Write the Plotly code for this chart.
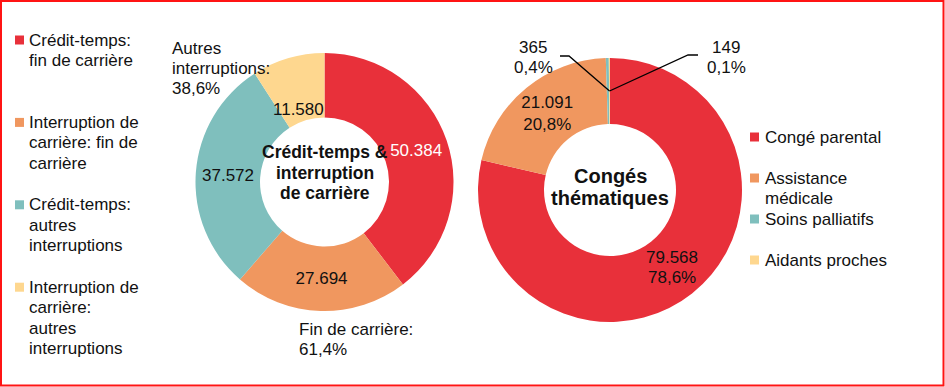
import math
import plotly.graph_objects as go

# ---------------- data ----------------
left_labels = ["Crédit-temps: fin de carrière",
               "Interruption de carrière: fin de carrière",
               "Crédit-temps: autres interruptions",
               "Interruption de carrière: autres interruptions"]
left_legend_lines = [["Crédit-temps:", "fin de carrière"],
                     ["Interruption de", "carrière: fin de", "carrière"],
                     ["Crédit-temps:", "autres", "interruptions"],
                     ["Interruption de", "carrière:", "autres", "interruptions"]]
left_values = [50384, 27694, 37572, 11580]
left_title = ["Crédit-temps &", "interruption", "de carrière"]

right_labels = ["Congé parental", "Assistance médicale", "Soins palliatifs", "Aidants proches"]
right_legend_lines = [["Congé parental"], ["Assistance", "médicale"],
                      ["Soins palliatifs"], ["Aidants proches"]]
right_values = [79568, 21091, 365, 149]
right_title = ["Congés", "thématiques"]

colors = ["#E8303A", "#F0975F", "#7FBFBD", "#FED78F"]

# ---------------- helpers ----------------
W, H = 945, 387
FONT = "Liberation Sans, Arial, sans-serif"
TXT = "#111111"


def px(x):
    return x / W


def py(y):
    return 1 - y / H


def fmt_int(v):
    return f"{v:,}".replace(",", ".")


def fmt_pct(p):
    return f"{p * 100:.1f}".replace(".", ",") + "%"


annotations = []
shapes = []


def text_lines(lines, x, y0, step, xanchor="left", size=17, bold=False, color=TXT):
    for k, line in enumerate(lines):
        t = f"<b>{line}</b>" if bold else line
        annotations.append(dict(x=px(x), y=py(y0 + k * step), xref="paper", yref="paper",
                                text=t, showarrow=False, xanchor=xanchor, yanchor="middle",
                                font=dict(family=FONT, size=size, color=color)))


def slice_point(values, idx, center, radius):
    """pixel point at the mid-angle of slice idx, at the given radius"""
    tot = sum(values)
    cum = sum(values[:idx]) + values[idx] / 2
    th = 2 * math.pi * cum / tot
    return center[0] + radius * math.sin(th), center[1] - radius * math.cos(th)


# pie geometry (pixels)
Lc, Lr = (324.5, 182), 129
Rc, Rr = (610, 190), 132
HOLE = 0.5

fig = go.Figure()
fig.add_trace(go.Pie(
    labels=left_labels, values=left_values, sort=False, direction="clockwise", rotation=0,
    hole=HOLE, marker=dict(colors=colors, line=dict(width=0)),
    texttemplate="%{value:,}", textposition=["inside", "inside", "inside", "none"],
    insidetextorientation="horizontal",
    insidetextfont=dict(family=FONT, size=17, color=["white", TXT, TXT, TXT]),
    domain=dict(x=[px(Lc[0] - Lr), px(Lc[0] + Lr)], y=[py(Lc[1] + Lr), py(Lc[1] - Lr)]),
    showlegend=False, hoverinfo="label+value+percent",
))
fig.add_trace(go.Pie(
    labels=right_labels, values=right_values, sort=False, direction="clockwise", rotation=0,
    hole=HOLE, marker=dict(colors=colors, line=dict(width=0)),
    texttemplate="%{value:,}<br>%{percent:.1%}",
    textposition=["none", "inside", "none", "none"], insidetextorientation="horizontal",
    insidetextfont=dict(family=FONT, size=17, color=TXT),
    domain=dict(x=[px(Rc[0] - Rr), px(Rc[0] + Rr)], y=[py(Rc[1] + Rr), py(Rc[1] - Rr)]),
    showlegend=False, hoverinfo="label+value+percent",
))

ltot = sum(left_values)
rtot = sum(right_values)

# labels placed like the original for the small left slice and the big right slice
x, y = slice_point(left_values, 3, Lc, Lr * 0.6)
text_lines([fmt_int(left_values[3])], x - 4, y + 2, 20, xanchor="center")
x, y = slice_point(right_values, 0, Rc, Rr * 0.75)
text_lines([fmt_int(right_values[0]), fmt_pct(right_values[0] / rtot)], x, y - 10, 20,
           xanchor="center")

# centre titles
text_lines(left_title, Lc[0], 152, 20.5, xanchor="center", size=17.5, bold=True)
text_lines(right_title, Rc[0], 176, 22, xanchor="center", size=20, bold=True)

# left donut outside summary labels
text_lines(["Autres", "interruptions:", fmt_pct((left_values[2] + left_values[3]) / ltot)],
           170, 48, 20.3)
text_lines(["Fin de carrière:", fmt_pct((left_values[0] + left_values[1]) / ltot)],
           297, 329, 20.3)

# right donut small-slice labels with leader lines
text_lines([fmt_int(right_values[2]), fmt_pct(right_values[2] / rtot)], 533, 47, 20.3,
           xanchor="center")
text_lines([fmt_int(right_values[3]), fmt_pct(right_values[3] / rtot)], 726, 47, 20.3,
           xanchor="center")
cx, cy = slice_point(right_values, 3, Rc, Rr * (1 + HOLE) / 2)
shapes.append(dict(type="path", xref="paper", yref="paper",
                   path=f"M {px(560)} {py(56)} L {px(569)} {py(56)} L {px(cx)} {py(cy)}",
                   line=dict(color="black", width=1.3)))
shapes.append(dict(type="path", xref="paper", yref="paper",
                   path=f"M {px(cx)} {py(cy)} L {px(688)} {py(55)} L {px(698)} {py(55)}",
                   line=dict(color="black", width=1.3)))


# custom legends
def legend(lines_list, sq_x, txt_x, y0, item_step, line_step):
    for i, lines in enumerate(lines_list):
        yc = y0 + i * item_step
        shapes.append(dict(type="rect", xref="paper", yref="paper",
                           x0=px(sq_x), x1=px(sq_x + 9), y0=py(yc + 4.5), y1=py(yc - 4.5),
                           fillcolor=colors[i], line=dict(width=0)))
        text_lines(lines, txt_x, yc, line_step)


legend(left_legend_lines, 15, 27, 40, 82.4, 20.5)
legend(right_legend_lines, 750, 763, 137, 41, 20.5)

# outer red frame
shapes.append(dict(type="rect", xref="paper", yref="paper", x0=px(1), x1=px(943.5),
                   y0=py(385.5), y1=py(1), line=dict(color="#FF1414", width=2)))

fig.update_layout(
    width=W, height=H, margin=dict(l=0, r=0, t=0, b=0),
    paper_bgcolor="white", plot_bgcolor="white",
    separators=",.", font=dict(family=FONT, size=17, color=TXT),
    annotations=annotations, shapes=shapes, showlegend=False,
)
fig.write_html("out.html", config={"displayModeBar": False},
               post_script="document.body.style.margin='0';document.body.style.padding='0';"
                           "document.body.style.overflow='hidden';")
